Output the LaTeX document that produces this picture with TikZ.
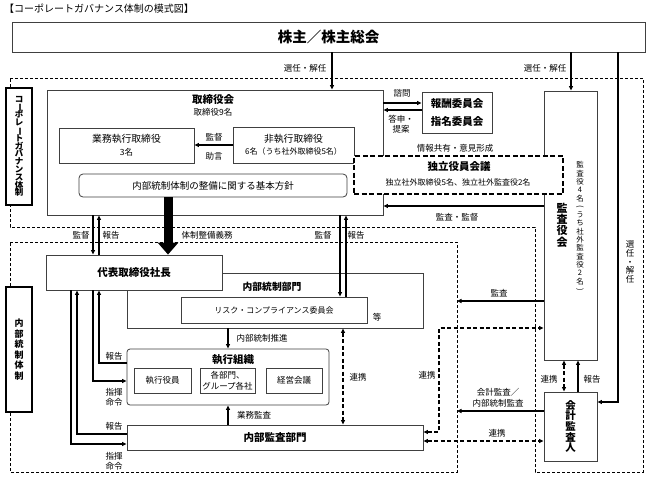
\documentclass[tikz,border=0pt]{standalone}
\usepackage{fontspec}
\setmainfont{Noto Sans CJK JP}
\usepackage{graphicx}
\usetikzlibrary{arrows.meta}
\protected\def\vbar{\rotatebox[origin=c]{-90}{ー}}
\protected\def\vopen{\rotatebox[origin=c]{-90}{(}}
\protected\def\vclose{\rotatebox[origin=c]{-90}{)}}

\begin{document}
\begin{tikzpicture}[x=1pt, y=-1pt,
    >={Triangle[length=4.5pt,width=4pt]},
    box/.style={draw=black!75, fill=white, line width=0.8pt, inner sep=0pt, align=center},
    tag/.style={draw, fill=white, line width=2pt, inner sep=0pt, align=center},
    region/.style={line width=0.7pt, dash pattern=on 3pt off 2pt},
    conn/.style={line width=1.1pt},
    link/.style={conn, dash pattern=on 4pt off 2.5pt},
    lbl/.style={inner sep=0pt, align=center, font=\fontsize{8.5}{10}\selectfont},
    ttl/.style={inner sep=0pt, align=center, font=\fontsize{10.5}{12}\selectfont\bfseries},
    tate/.style={inner sep=0pt, align=center}]

    \useasboundingbox (0,0) rectangle (648,477);
    \fill[white] (0,0) rectangle (648,477);

    % dashed areas
    \draw[region] (10,78) -- (643,78) -- (643,472) -- (535,472) -- (535,227) -- (10,227) -- cycle;
    \draw[region] (10,242) -- (457,242) -- (457,472) -- (10,472) -- cycle;
    \coordinate (icR) at (457,242);

    \node[anchor=west, inner sep=0pt, font=\fontsize{10}{12}\selectfont] (title) at (4,9) {【コーポレートガバナンス体制の模式図】};

    \node[box, minimum width=633pt, minimum height=30pt, font=\fontsize{14.5}{16}\selectfont\bfseries] (share) at (328.5,37) {株主／株主総会};

    \node[tag, minimum width=26pt, minimum height=117pt, font={\fontsize{8.5}{7.8}\selectfont\bfseries\lineskiplimit=-10pt}] (govtag) at (19,146.5)
        {コ\\\vbar\\ポ\\レ\\\vbar\\ト\\ガ\\バ\\ナ\\ン\\ス\\体\\制};
    \node[tag, minimum width=26pt, minimum height=125pt, font={\fontsize{9}{10.5}\selectfont\bfseries\lineskiplimit=-10pt}] (ictag) at (19,349.5)
        {内\\部\\統\\制\\体\\制};

    % board
    \node[box, minimum width=336pt, minimum height=125pt] (board) at (215,152.5) {};
    \node[ttl] (boardT) at (213,100) {取締役会};
    \node[lbl, font=\fontsize{8.5}{10}\selectfont] (boardN) at (213,112) {取締役9名};
    \node[box, minimum width=135pt, minimum height=35pt, font=\fontsize{9.8}{13}\selectfont] (execdir) at (126.5,145.5)
        {業務執行取締役\\{\fontsize{8.5}{10}\selectfont 3名}};
    \node[box, minimum width=121pt, minimum height=36pt, font=\fontsize{9.8}{12.5}\selectfont] (nonexec) at (293.5,145)
        {非執行取締役\\{\fontsize{8}{10}\selectfont 6名（うち社外取締役5名）}};
    \node[box, rounded corners=4pt, minimum width=268pt, minimum height=23pt, font=\fontsize{9.5}{11}\selectfont] (policy) at (213,185.5)
        {内部統制体制の整備に関する基本方針};

    \node[box, minimum width=70pt, minimum height=41pt, font=\fontsize{10.5}{18}\selectfont\bfseries] (cmte) at (457,112.5) {報酬委員会\\指名委員会};

    % audit board
    \node[box, minimum width=53pt, minimum height=269pt] (kansa) at (570.5,225.5) {};
    \node[tate, font={\fontsize{11}{11.3}\selectfont\bfseries\lineskiplimit=-10pt}] (kansaT) at (562,225) {監\\査\\役\\会};
    \node[tate, font={\fontsize{7.5}{8.3}\selectfont\lineskiplimit=-10pt}] (kansaN) at (580,227)
        {監\\査\\役\\4\\名\\\vopen\\う\\ち\\社\\外\\監\\査\\役\\2\\名\\\vclose};

    \node[box, draw=black, line width=1.8pt, dash pattern=on 5pt off 2.5pt, minimum width=209pt, minimum height=38pt] (indep) at (458.5,175) {};
    \node[ttl] (indepT) at (459,167) {独立役員会議};
    \node[lbl, font=\fontsize{8}{10}\selectfont] (indepN) at (458,182.5) {独立社外取締役5名、独立社外監査役2名};

    % internal control
    \node[box, minimum width=296pt, minimum height=55pt] (icdept) at (275,300.5) {};
    \node[ttl, font=\fontsize{9.8}{12}\selectfont\bfseries] (icdeptT) at (272,287) {内部統制部門};
    \node[box, minimum width=186pt, minimum height=26pt, font=\fontsize{8}{10}\selectfont] (risk) at (274,310) {リスク・コンプライアンス委員会};
    \node[lbl] (etc) at (377,317) {等};
    \node[box, minimum width=176pt, minimum height=35pt, font=\fontsize{10.5}{12}\selectfont\bfseries] (pres) at (134,272.5) {代表取締役社長};

    \node[box, rounded corners=3pt, minimum width=202pt, minimum height=56pt] (execorg) at (228,377) {};
    \node[ttl] (execorgT) at (233,359.5) {執行組織};
    \node[box, minimum width=57pt, minimum height=25pt, font=\fontsize{8.5}{10}\selectfont] (officer) at (162.5,380.5) {執行役員};
    \node[box, minimum width=55pt, minimum height=25pt, font=\fontsize{8.5}{11}\selectfont] (depts) at (227.5,380.5) {各部門、\\グループ各社};
    \node[box, minimum width=56pt, minimum height=25pt, font=\fontsize{8.5}{10}\selectfont] (mgmt) at (294,380.5) {経営会議};

    \node[box, minimum width=296pt, minimum height=25pt, font=\fontsize{10.5}{12}\selectfont\bfseries] (iaudit) at (275,437.5) {内部監査部門};

    \node[box, minimum width=53pt, minimum height=69pt, font={\fontsize{10.5}{10.6}\selectfont\bfseries\lineskiplimit=-10pt}] (auditor) at (570.5,426.5)
        {会\\計\\監\\査\\人};

    % connectors
    \draw[conn, ->] (332,0 |- share.south) -- (332,0 |- board.north);
    \draw[conn, ->] (571,0 |- share.south) -- (571,0 |- kansa.north);
    \draw[line width=2.3pt, ->] (618,0 |- share.south) -- (618,402) -- (auditor.east |- 0,402);

    \draw[conn, ->] (board.east |- 0,103) -- (cmte.west |- 0,103);
    \draw[conn, ->] (cmte.west |- 0,110) -- (board.east |- 0,110);
    \draw[conn, ->] (nonexec.west |- 0,145) -- (execdir.east |- 0,145);

    \draw[line width=9pt, -{Triangle[length=12pt,width=20pt]}] (168,0 |- policy.south) -- (168,0 |- pres.north);
    \draw[conn, ->] (93,0 |- board.south) -- (93,0 |- pres.north);
    \draw[conn, ->] (99,0 |- pres.north) -- (99,0 |- board.south);
    \draw[conn, ->] (340,0 |- board.south) -- (340,0 |- risk.north);
    \draw[conn, ->] (346,0 |- risk.north) -- (346,0 |- board.south);

    \draw[conn, ->] (kansa.west |- 0,206) -- (board.east |- 0,206);
    \draw[conn, ->] (kansa.west |- 0,301) -- (icR |- 0,301);

    \draw[conn, ->] (228,0 |- icdept.south) -- (228,0 |- execorg.north);
    \draw[conn, ->] (228,0 |- iaudit.north) -- (228,0 |- execorg.south);
    \draw[link, <->] (343,0 |- icdept.south) -- (343,0 |- iaudit.north);

    \draw[conn, ->] (execorg.west |- 0,363) -- (99,363) -- (99,0 |- pres.south);
    \draw[conn, ->] (93,0 |- pres.south) -- (93,381) -- (execorg.west |- 0,381);
    \draw[conn, ->] (iaudit.west |- 0,434) -- (77,434) -- (77,0 |- pres.south);
    \draw[conn, ->] (71,0 |- pres.south) -- (71,444) -- (iaudit.west |- 0,444);

    \draw[link, <->] (iaudit.east |- 0,432) -- (439,432) -- (439,328) -- (kansa.west |- 0,328);
    \draw[conn, ->] (auditor.west |- 0,411) -- (icR |- 0,411);
    \draw[link, <->] (iaudit.east |- 0,441) -- (auditor.west |- 0,441);
    \draw[link, <->] (564,0 |- kansa.south) -- (564,0 |- auditor.north);
    \draw[conn, ->] (578,0 |- auditor.north) -- (578,0 |- kansa.south);

    % labels
    \node[lbl] (l1) at (305,68) {選任・解任};
    \node[lbl] (l2) at (545,68) {選任・解任};
    \node[tate, font={\fontsize{8.5}{8.6}\selectfont\lineskiplimit=-10pt}] (l3) at (630,262) {選\\任\\・\\解\\任};
    \node[lbl] (l4) at (402,93) {諮問};
    \node[lbl, font=\fontsize{8.5}{10.5}\selectfont] (l5) at (401,124) {答申・\\提案};
    \node[lbl] (l6) at (214,137) {監督};
    \node[lbl] (l7) at (214,156) {助言};
    \node[lbl] (l8) at (455,148) {情報共有・意見形成};
    \node[lbl] (l9) at (457,217) {監査・監督};
    \node[lbl] (l10) at (81,235) {監督};
    \node[lbl] (l11) at (111,235) {報告};
    \node[lbl] (l12) at (207,235) {体制整備義務};
    \node[lbl] (l13) at (323,235) {監督};
    \node[lbl] (l14) at (356,235) {報告};
    \node[lbl] (l15) at (499,293) {監査};
    \node[lbl] (l16) at (262,338) {内部統制推進};
    \node[lbl] (l17) at (358,377) {連携};
    \node[lbl] (l18) at (427,375) {連携};
    \node[lbl] (l19) at (114,356) {報告};
    \node[lbl] (l20) at (114,397) {指揮\\命令};
    \node[lbl] (l21) at (254,415) {業務監査};
    \node[lbl] (l22) at (114,426) {報告};
    \node[lbl] (l23) at (114,461) {指揮\\命令};
    \node[lbl, font=\fontsize{8.5}{11}\selectfont] (l24) at (498,398) {会計監査／\\内部統制監査};
    \node[lbl] (l25) at (497,433) {連携};
    \node[lbl] (l26) at (549,379) {連携};
    \node[lbl] (l27) at (592,379) {報告};
\end{tikzpicture}
\end{document}
